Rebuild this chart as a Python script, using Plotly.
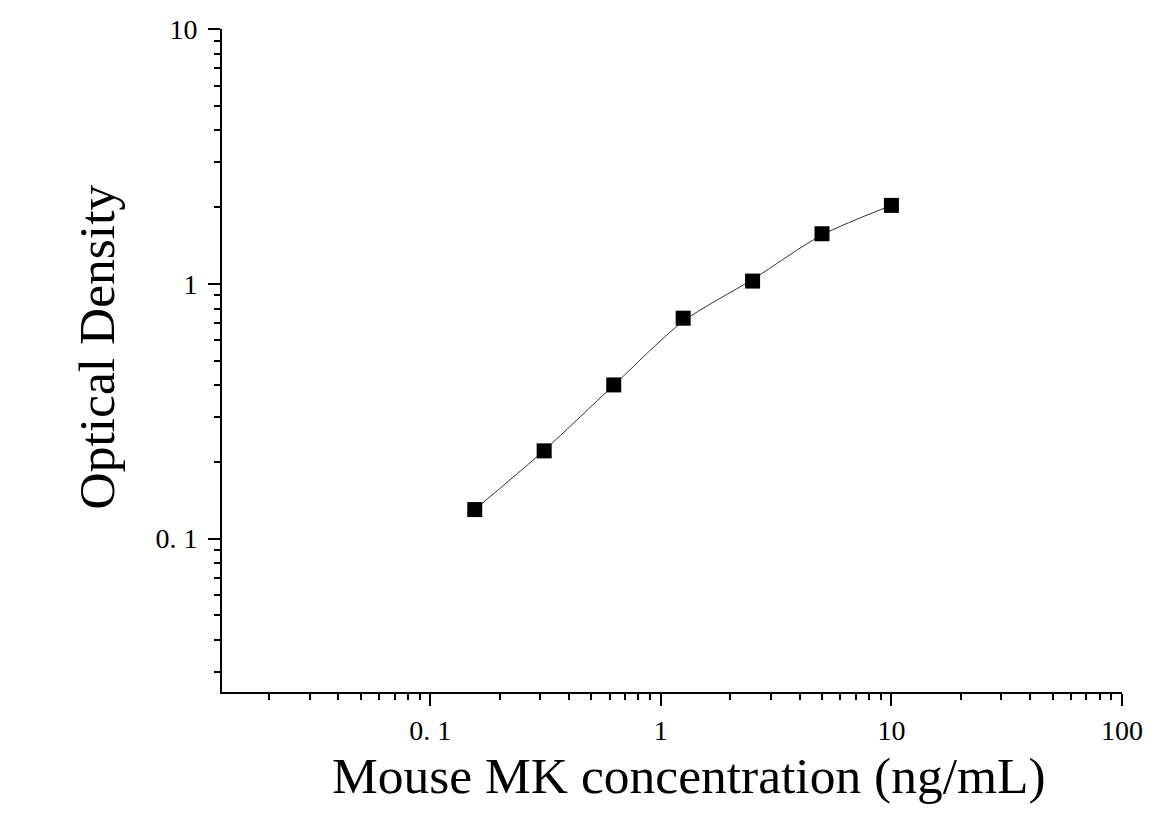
import plotly.graph_objects as go

# standard curve readings
conc = [0.156, 0.312, 0.625, 1.25, 2.5, 5, 10]
od = [0.130, 0.221, 0.401, 0.733, 1.025, 1.572, 2.031]

# where the fitted line passes at each standard
fit_od = [0.130, 0.222, 0.400, 0.712, 1.040, 1.555, 2.030]

x_tickvals = [0.1, 1, 10, 100]
x_ticktext = ["0. 1", "1", "10", "100"]
y_tickvals = [0.1, 1, 10]
y_ticktext = ["0. 1", "1", "10"]

x_title = "Mouse MK concentration (ng/mL)"
y_title = "Optical Density"

# minor ticks 2..9 in every decade
x_minor = [m * 10 ** e for e in range(-2, 2) for m in range(2, 10)]
y_minor = [m * 10 ** e for e in range(-2, 1) for m in range(2, 10)]
y_minor = [v for v in y_minor if v >= 0.03]

font_family = "Liberation Serif, Times New Roman, serif"

fig = go.Figure()
fig.add_trace(go.Scatter(
    x=conc, y=fit_od, mode="lines",
    line=dict(color="#333333", width=1, shape="spline", smoothing=0.8),
    showlegend=False, hoverinfo="skip"))
fig.add_trace(go.Scatter(
    x=conc, y=od, mode="markers",
    marker=dict(symbol="square", size=15, color="black"),
    showlegend=False))

axis_common = dict(
    type="log",
    showgrid=False, zeroline=False,
    showline=True, linecolor="black", linewidth=2,
    ticks="outside", ticklen=12, tickwidth=2, tickcolor="black",
    tickmode="array",
    tickfont=dict(family=font_family, size=28, color="black"),
)

fig.update_xaxes(
    **axis_common,
    range=[-1.903, 2],
    tickvals=x_tickvals, ticktext=x_ticktext,
    minor=dict(tickmode="array", tickvals=x_minor, ticks="outside",
               ticklen=6, tickwidth=2, tickcolor="black"),
    ticklabelstandoff=0,
)
fig.update_yaxes(
    **axis_common,
    range=[-1.602, 1],
    tickvals=y_tickvals, ticktext=y_ticktext,
    minor=dict(tickmode="array", tickvals=y_minor, ticks="outside",
               ticklen=6, tickwidth=2, tickcolor="black"),
    ticklabelstandoff=5,
)

fig.add_annotation(text=x_title, xref="paper", yref="paper",
                   x=0.519, y=-0.126, xanchor="center", yanchor="middle",
                   showarrow=False,
                   font=dict(family=font_family, size=51.5, color="black"))
fig.add_annotation(text=y_title, xref="paper", yref="paper",
                   x=-0.139, y=0.521, xanchor="center", yanchor="middle",
                   textangle=-90, showarrow=False,
                   font=dict(family=font_family, size=51.5, color="black"))

fig.update_layout(
    width=1167, height=821,
    margin=dict(l=214, r=53, t=21, b=137, autoexpand=False),
    plot_bgcolor="white", paper_bgcolor="white",
)

fig.write_html("out.html")
